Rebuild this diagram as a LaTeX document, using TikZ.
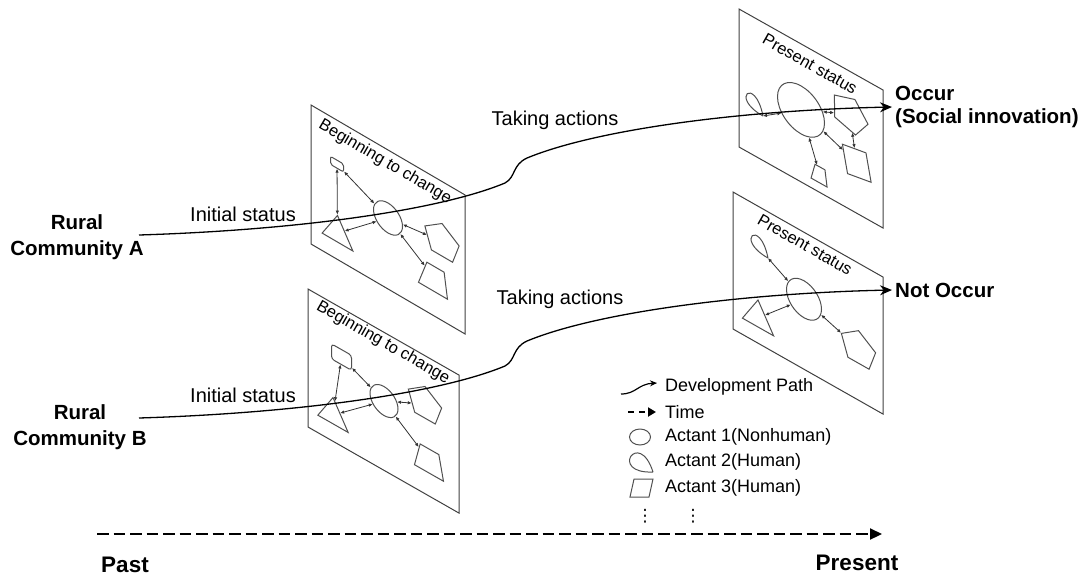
\documentclass[tikz,border=0pt]{standalone}
\usepackage{fontspec}
\setmainfont{Liberation Sans}
\newfontfamily\dotsfont{DejaVu Sans}
\usetikzlibrary{shapes.geometric, arrows.meta}
\definecolor{frameGray}{RGB}{64,64,64}
\definecolor{shapeGray}{RGB}{80,80,80}

\begin{document}
\begin{tikzpicture}[x=1pt, y=-1pt,
  panel/.style={draw=frameGray, line width=1pt, inner sep=0pt, transform shape},
  actant/.style={draw=shapeGray, line width=1pt, inner sep=0pt, transform shape},
  quad/.style={actant, trapezium, trapezium stretches=true, inner sep=1pt},
  link/.style={{Latex[length=4pt,width=3.5pt]}-{Latex[length=4pt,width=3.5pt]}, line width=0.8pt, black!80},
  paneltext/.style={font=\fontsize{16.5}{18}\selectfont},
  stattext/.style={font=\fontsize{20}{24}\selectfont},
  community/.style={font=\bfseries\fontsize{20.5}{26}\selectfont, align=center},
  outcome/.style={font=\bfseries\fontsize{20.5}{23}\selectfont, align=left, anchor=west, inner sep=3pt},
  timetext/.style={font=\bfseries\fontsize{22.5}{26}\selectfont},
  legtext/.style={font=\fontsize{18}{20}\selectfont, anchor=west, inner sep=0pt},
  devpath/.style={line width=1.3pt, -{Stealth[length=12pt,width=10pt]}},
  timeline/.style={line width=2.2pt, dash pattern=on 11.5pt off 5pt, -{Triangle[length=12pt,width=11pt]}}]
\useasboundingbox (0,0) rectangle (1090,579);

% Community A, beginning to change
\begin{scope}[cm={1,-0.584,0,1,(311,105)}]
  \node[panel, minimum width=154pt, minimum height=139pt] (pnlA1) at (77,69.5) {};
  \node[paneltext, rotate=-30.3] at (74,14) {Beginning to change};
  \node[actant, rectangle, rounded corners=2pt, minimum width=13pt, minimum height=8pt] (recA1) at (26,44) {};
  \node[actant, regular polygon, regular polygon sides=3, minimum size=35.5pt] (triA1) at (26.5,112.7) {};
  \node[actant, ellipse, minimum width=29pt, minimum height=30pt] (ellA1) at (77,68) {};
  \node[actant, regular polygon, regular polygon sides=5, minimum size=36pt] (penA1) at (131,60) {};
  \node[quad, trapezium left angle=64, trapezium right angle=79, minimum width=29pt, minimum height=25pt] (quaA1) at (124.5,102) {};
  \draw[link] (recA1) -- (triA1);
  \draw[link] (recA1) -- (ellA1);
  \draw[link] (ellA1) -- (triA1);
  \draw[link] (ellA1) -- (penA1);
  \draw[link] (ellA1) -- (quaA1);
\end{scope}

% Community B, beginning to change
\begin{scope}[cm={1,-0.57,0,1,(308,289)}]
  \node[panel, minimum width=151pt, minimum height=138pt] (pnlB1) at (75.5,69) {};
  \node[paneltext, rotate=-29.7] at (75,11) {Beginning to change};
  \node[actant, rectangle, rounded corners=3pt, minimum width=20pt, minimum height=15pt] (recB1) at (33.5,49) {};
  \node[actant, regular polygon, regular polygon sides=3, minimum size=35pt] (triB1) at (25,111.8) {};
  \node[actant, ellipse, minimum width=28pt, minimum height=29pt] (ellB1) at (76,68.7) {};
  \node[actant, regular polygon, regular polygon sides=5, minimum size=35pt] (penB1) at (117,48.3) {};
  \node[quad, trapezium left angle=73, trapezium right angle=76, minimum width=29pt, minimum height=24pt] (quaB1) at (121.5,103) {};
  \draw[link] (recB1) -- (triB1);
  \draw[link] (recB1) -- (ellB1);
  \draw[link] (ellB1) -- (triB1);
  \draw[link] (ellB1) -- (penB1);
  \draw[link] (ellB1) -- (quaB1);
\end{scope}

% Community A, present status
\begin{scope}[cm={1,-0.5625,0,1,(739,9)}]
  \node[panel, minimum width=144pt, minimum height=138pt] (pnlA2) at (72,69) {};
  \node[paneltext, rotate=-29.4] at (71,15) {Present status};
  \coordinate (tdA2) at (24,93.5);
  \draw[draw=shapeGray, line width=1pt] (tdA2) .. controls +(-34,0) and +(-8,-36) .. (tdA2);
  \node[actant, ellipse, minimum width=47pt, minimum height=48pt] (ellA2) at (62,66) {};
  \node[actant, regular polygon, regular polygon sides=5, minimum size=37pt, rotate=-17] (penA2) at (110.5,43) {};
  \node[actant, rectangle, minimum width=24pt, minimum height=27pt, rotate=11] (squA2) at (117.75,88) {};
  \node[quad, trapezium left angle=68, trapezium right angle=78, minimum width=16pt, minimum height=16pt] (quaA2) at (81,120.5) {};
  \draw[link] (tdA2) -- (ellA2);
  \draw[link] (ellA2) -- (penA2);
  \draw[link] (penA2) -- (squA2);
  \draw[link] (ellA2) -- (squA2);
  \draw[link] (ellA2) -- (quaA2);
\end{scope}

% Community B, present status
\begin{scope}[cm={1,-0.567,0,1,(733,192)}]
  \node[panel, minimum width=150pt, minimum height=137pt] (pnlB2) at (75,68.5) {};
  \node[paneltext, rotate=-29.6] at (72,12) {Present status};
  \coordinate (tdB2) at (35,46.2);
  \draw[draw=shapeGray, line width=1pt] (tdB2) .. controls +(-34,0) and +(-8,-36) .. (tdB2);
  \node[actant, ellipse, minimum width=35pt, minimum height=37pt] (ellB2) at (71,67) {};
  \node[actant, regular polygon, regular polygon sides=3, minimum size=36pt] (triB2) at (25,111.8) {};
  \node[actant, regular polygon, regular polygon sides=5, minimum size=36pt] (penB2) at (125.5,85.5) {};
  \draw[link] (tdB2) -- (ellB2);
  \draw[link] (ellB2) -- (triB2);
  \draw[link] (ellB2) -- (penB2);
\end{scope}

% Communities and outcomes
\node[community] (comA) at (77,237) {Rural\\Community A};
\node[community] (comB) at (80,427) {Rural\\Community B};
\node[outcome] (occ) at (892,107) {Occur\\(Social innovation)};
\node[outcome] (nocc) at (892,290) {Not Occur};
\node[stattext] (iniA) at (243,214) {Initial status};
\node[stattext] (iniB) at (243,395) {Initial status};
\node[stattext] (actA) at (555,120) {Taking actions};
\node[stattext] (actB) at (560,299) {Taking actions};

% Development paths
\coordinate (srcA) at (139,235);
\coordinate (srcB) at (139,418);
\draw[devpath] (srcA) .. controls (300,230) and (440,210) .. (505,183) .. controls (516,177) and (512,165) .. (527,158) .. controls (600,128) and (750,110) .. (occ.west);
\draw[devpath] (srcB) .. controls (300,413) and (440,393) .. (505,366) .. controls (516,360) and (512,348) .. (527,341) .. controls (600,311) and (750,293) .. (nocc.west);

% Time axis
\coordinate (tPast) at (97,534);
\coordinate (tNow) at (882,534);
\draw[timeline] (tPast) -- (tNow);
\node[timetext] (past) at (125,565) {Past};
\node[timetext] (now) at (857,563) {Present};

% Legend
\draw[line width=1.2pt, -{Stealth[length=7pt,width=6pt]}] (621,394) .. controls (636,394) and (638,384) .. (657,383);
\draw[line width=2.2pt, dash pattern=on 6pt off 5pt, -{Triangle[length=8pt,width=9pt]}] (628,412) -- (656,412);
\node[draw=shapeGray, line width=1pt, ellipse, minimum width=21pt, minimum height=16pt, inner sep=0pt] (legA1) at (640,437) {};
\coordinate (tdLeg) at (653,472);
\draw[draw=shapeGray, line width=1pt] (tdLeg) .. controls +(-45,2) and +(-14,-44) .. (tdLeg);
\node[draw=shapeGray, line width=1pt, trapezium, trapezium stretches=true, trapezium left angle=75, trapezium right angle=105, minimum width=23pt, minimum height=18pt, inner sep=1pt] (legA3) at (641.5,488) {};
\node[legtext] at (665,387) {Development Path};
\node[legtext] at (665,412) {Time};
\node[legtext] at (665,437) {Actant 1(Nonhuman)};
\node[legtext] at (665,462) {Actant 2(Human)};
\node[legtext] at (665,488) {Actant 3(Human)};
\node[font=\dotsfont\fontsize{17}{17}\selectfont] at (645,516.5) {⋮};
\node[font=\dotsfont\fontsize{17}{17}\selectfont] at (693,516.5) {⋮};
\end{tikzpicture}
\end{document}
